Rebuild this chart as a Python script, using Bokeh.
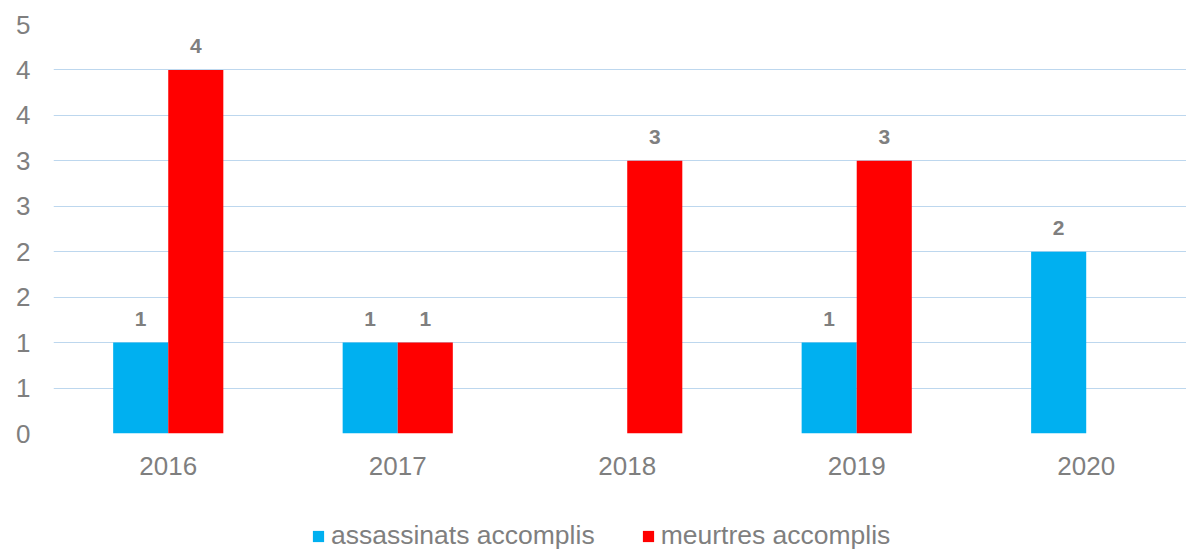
from bokeh.plotting import figure
from bokeh.layouts import column
from bokeh.models import ColumnDataSource, FixedTicker, Legend, LegendItem, Range1d
from bokeh.transform import dodge
from bokeh.core.properties import value
from bokeh.embed import file_html
from bokeh.resources import INLINE

years = ["2016", "2017", "2018", "2019", "2020"]
assassinats = [1, 1, 0, 1, 2]
meurtres = [4, 1, 3, 3, 0]
series_names = ["assassinats accomplis", "meurtres accomplis"]
y_tick_values = [0, 0.5, 1, 1.5, 2, 2.5, 3, 3.5, 4, 4.5]
y_tick_labels = ["0", "1", "1", "2", "2", "3", "3", "4", "4", "5"]

BLUE = "#00B0F0"
RED = "#FF0000"
GRAY = "#7F7F7F"
FONT = "Liberation Sans"

idx = list(range(len(years)))
src = ColumnDataSource(dict(x=idx, a=assassinats, m=meurtres))

la = [(i, v) for i, v in zip(idx, assassinats) if v]
lm = [(i, v) for i, v in zip(idx, meurtres) if v]
src_la = ColumnDataSource(dict(x=[t[0] for t in la], y=[t[1] for t in la], t=[str(t[1]) for t in la]))
src_lm = ColumnDataSource(dict(x=[t[0] for t in lm], y=[t[1] for t in lm], t=[str(t[1]) for t in lm]))

p = figure(frame_width=1133, frame_height=409, output_backend="svg", toolbar_location=None,
           x_range=Range1d(-0.5, 4.437), y_range=Range1d(0, 4.5),
           min_border_left=53, min_border_right=0, min_border_top=24, min_border_bottom=60)
p.outline_line_color = None

p.vbar(x=dodge("x", -0.12), top="a", width=0.24, source=src, fill_color=BLUE, line_color=None)
p.vbar(x=dodge("x", 0.12), top="m", width=0.24, source=src, fill_color=RED, line_color=None)

for s, off in ((src_la, -0.12), (src_lm, 0.12)):
    p.text(x=dodge("x", off), y="y", text="t", source=s,
           text_align="center", text_baseline="bottom", y_offset=-17,
           text_font=value(FONT), text_font_size="21px", text_font_style="bold",
           text_color=GRAY)

p.xgrid.grid_line_color = None
p.ygrid.grid_line_color = "#BDD7EE"
p.ygrid.grid_line_width = 1
p.yaxis.ticker = FixedTicker(ticks=y_tick_values)
p.ygrid.ticker = FixedTicker(ticks=y_tick_values)
p.yaxis.major_label_overrides = {v: l for v, l in zip(y_tick_values, y_tick_labels)}
p.xaxis.ticker = FixedTicker(ticks=idx)
p.xaxis.major_label_overrides = {i: y for i, y in zip(idx, years)}

for ax in (p.xaxis, p.yaxis):
    ax.axis_line_color = None
    ax.major_tick_line_color = None
    ax.minor_tick_line_color = None
    ax.major_tick_out = 0
    ax.major_tick_in = 0
    ax.major_label_text_font = FONT
    ax.major_label_text_font_size = "26px"
    ax.major_label_text_color = GRAY
p.yaxis.major_label_standoff = 23
p.xaxis.major_label_standoff = 23

# legend strip
lg = figure(width=1186, height=58, output_backend="svg", toolbar_location=None,
            x_range=Range1d(0, 1), y_range=Range1d(0, 1),
            min_border=0, x_axis_location=None, y_axis_location=None)
lg.outline_line_color = None
lg.xgrid.grid_line_color = None
lg.ygrid.grid_line_color = None
dummy = ColumnDataSource(dict(x=[-5], top=[0]))
r1 = lg.vbar(x="x", top="top", width=0.1, source=dummy, fill_color=BLUE, line_color=None)
r2 = lg.vbar(x="x", top="top", width=0.1, source=dummy, fill_color=RED, line_color=None)
legend = Legend(items=[LegendItem(label=series_names[0], renderers=[r1]),
                       LegendItem(label=series_names[1], renderers=[r2])],
                orientation="horizontal", location=(258, 0),
                glyph_width=14, glyph_height=14, label_standoff=6, spacing=46,
                label_text_font=FONT, label_text_font_size="26.5px", label_text_color=GRAY,
                border_line_color=None, background_fill_alpha=0, padding=0, margin=0)
lg.add_layout(legend)

layout = column(p, lg, spacing=0)
open("out.html", "w").write(file_html(layout, INLINE))
